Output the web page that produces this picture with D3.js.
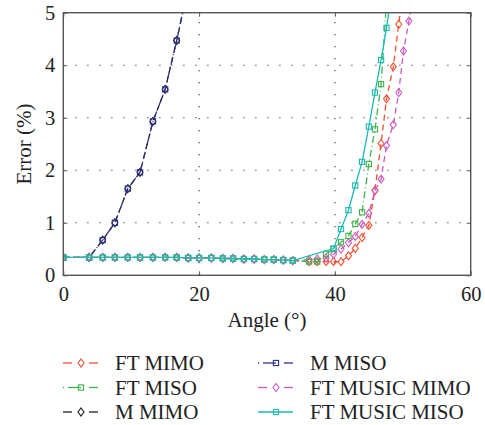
<!DOCTYPE html>
<html>
<head>
<meta charset="utf-8">
<script src="https://cdn.jsdelivr.net/npm/d3@7"></script>
<style>
  html, body { margin: 0; padding: 0; background: #fff; }
  svg text { font-family: "Liberation Serif", "DejaVu Serif", serif; fill: #222; }
</style>
</head>
<body>
<svg id="chart" width="485" height="425"></svg>
<script>
// Angle (°) and error (%) samples for each estimator
const angleM = [0, 3.8, 5.8, 7.6, 9.5, 11.3, 13.2, 15.0, 16.7, 18.4];
const errMMimo = [0.34, 0.34, 0.67, 1.0, 1.65, 1.96, 2.93, 3.54, 4.47, 5.5];
const errMMiso = [0.34, 0.34, 0.67, 1.0, 1.65, 1.96, 2.93, 3.54, 4.47, 5.5];

const angleFtMimo = [0, 3.8, 5.8, 7.6, 9.5, 11.3, 13.2, 15.0, 16.7, 18.4, 20.0, 21.8, 23.5, 25.0, 26.6, 28.1, 29.6, 31.0, 32.4, 33.8, 36.2, 37.4, 38.7, 39.8, 40.9, 42.0, 43.0, 44.0, 45.0, 45.9, 46.8, 47.6, 48.6, 49.4, 50.2];
const errFtMimo = [0.34, 0.34, 0.34, 0.34, 0.34, 0.34, 0.34, 0.34, 0.34, 0.33, 0.33, 0.33, 0.32, 0.32, 0.31, 0.31, 0.30, 0.30, 0.29, 0.28, 0.26, 0.26, 0.26, 0.26, 0.26, 0.37, 0.51, 0.72, 0.95, 1.62, 2.51, 3.36, 3.97, 4.78, 5.6];

const angleFtMusicMimo = [0, 3.8, 5.8, 7.6, 9.5, 11.3, 13.2, 15.0, 16.7, 18.4, 20.0, 21.8, 23.5, 25.0, 26.6, 28.1, 29.6, 31.0, 32.4, 33.8, 36.2, 37.4, 38.7, 39.8, 40.9, 42.0, 43.0, 44.0, 45.0, 45.9, 46.8, 47.6, 48.6, 49.4, 50.1, 50.9, 51.7];
const errFtMusicMimo = [0.34, 0.34, 0.34, 0.34, 0.34, 0.34, 0.34, 0.34, 0.34, 0.33, 0.33, 0.33, 0.32, 0.32, 0.31, 0.31, 0.30, 0.30, 0.29, 0.28, 0.30, 0.31, 0.33, 0.40, 0.50, 0.62, 0.74, 0.97, 1.18, 1.61, 1.83, 2.47, 2.87, 3.48, 4.27, 4.84, 5.5];

const angleFtMiso = [0, 3.8, 5.8, 7.6, 9.5, 11.3, 13.2, 15.0, 16.7, 18.4, 20.0, 21.8, 23.5, 25.0, 26.6, 28.1, 29.6, 31.0, 32.4, 33.8, 36.2, 37.4, 38.7, 39.8, 40.9, 42.0, 43.0, 44.0, 45.0, 45.9, 46.8, 47.7];
const errFtMiso = [0.34, 0.34, 0.34, 0.34, 0.34, 0.34, 0.34, 0.34, 0.34, 0.33, 0.33, 0.33, 0.32, 0.32, 0.31, 0.31, 0.30, 0.30, 0.29, 0.28, 0.26, 0.26, 0.41, 0.50, 0.63, 0.75, 0.98, 1.20, 2.12, 2.78, 3.64, 5.4];

const angleFtMusicMiso = [0, 3.8, 5.8, 7.6, 9.5, 11.3, 13.2, 15.0, 16.7, 18.4, 20.0, 21.8, 23.5, 25.0, 26.6, 28.1, 29.6, 31.0, 32.4, 33.8, 39.8, 40.9, 42.0, 43.0, 44.0, 45.0, 45.9, 46.8, 47.6, 48.5];
const errFtMusicMiso = [0.34, 0.34, 0.34, 0.34, 0.34, 0.34, 0.34, 0.34, 0.34, 0.33, 0.33, 0.33, 0.32, 0.32, 0.31, 0.31, 0.30, 0.30, 0.29, 0.28, 0.51, 0.88, 1.24, 1.71, 2.16, 2.83, 3.48, 4.10, 4.71, 5.5];

const xTicks = [0, 20, 40, 60];
const yTicks = [0, 1, 2, 3, 4, 5];

const seriesNames = ["FT MIMO", "FT MISO", "M MIMO", "M MISO", "FT MUSIC MIMO", "FT MUSIC MISO"];
const seriesColors = ["#f2512e", "#3cb54a", "#1e1e1e", "#2e2f8f", "#cc5bbf", "#1dbab2"];

// Series table (drawing order: lowest first); style: dashed, dashdot or solid
const series = [
  { name: "M MIMO", x: angleM, y: errMMimo, marker: "diamond", style: "dashed" },
  { name: "M MISO", x: angleM, y: errMMiso, marker: "square", style: "dashdot" },
  { name: "FT MIMO", x: angleFtMimo, y: errFtMimo, marker: "diamond", style: "dashed" },
  { name: "FT MUSIC MIMO", x: angleFtMusicMimo, y: errFtMusicMimo, marker: "diamond", style: "dashed" },
  { name: "FT MISO", x: angleFtMiso, y: errFtMiso, marker: "square", style: "dashdot" },
  { name: "FT MUSIC MISO", x: angleFtMusicMiso, y: errFtMusicMiso, marker: "square", style: "solid" }
];
const dashArrays = { dashed: "6,4", dashdot: "7,3,1,3", solid: null };
series.forEach(s => { s.color = seriesColors[seriesNames.indexOf(s.name)]; });

const svg = d3.select("#chart");
const plot = { left: 63.3, right: 470.7, top: 12.7, bottom: 275.3 };
const fontFamily = "'Liberation Serif', 'DejaVu Serif', serif";

const x = d3.scaleLinear().domain([0, 60]).range([plot.left, plot.right]);
const y = d3.scaleLinear().domain([0, 5]).range([plot.bottom, plot.top]);

// Dotted grid at interior ticks
const grid = svg.append("g").attr("stroke", "#333").attr("stroke-width", 1.1)
  .attr("stroke-dasharray", "1.2,10.8");
xTicks.filter(t => t > 0 && t < 60).forEach(t => {
  grid.append("line").attr("x1", x(t)).attr("x2", x(t)).attr("y1", y(0)).attr("y2", y(5));
});
yTicks.filter(t => t > 0 && t < 5).forEach(t => {
  grid.append("line").attr("x1", x(0)).attr("x2", x(60)).attr("y1", y(t)).attr("y2", y(t));
});

// Axes with inward ticks
const xAxis = svg.append("g").attr("transform", `translate(0,${plot.bottom})`)
  .call(d3.axisBottom(x).tickValues(xTicks).tickFormat(d3.format("d"))
    .tickSizeInner(-4).tickSizeOuter(0).tickPadding(11));
const yAxis = svg.append("g").attr("transform", `translate(${plot.left},0)`)
  .call(d3.axisLeft(y).tickValues(yTicks).tickFormat(d3.format("d"))
    .tickSizeInner(-4).tickSizeOuter(0).tickPadding(8));
[xAxis, yAxis].forEach(a => {
  a.attr("font-family", fontFamily).attr("font-size", 20.5);
  a.select(".domain").remove();
  a.selectAll(".tick line").attr("stroke", "#555").attr("stroke-width", 1);
  a.selectAll(".tick text").attr("fill", "#222");
});
svg.append("g").attr("transform", `translate(0,${plot.top})`)
  .call(d3.axisTop(x).tickValues(xTicks).tickSizeInner(-4).tickSizeOuter(0).tickFormat(""))
  .call(g => { g.select(".domain").remove(); g.selectAll(".tick line").attr("stroke", "#555"); });
svg.append("g").attr("transform", `translate(${plot.right},0)`)
  .call(d3.axisRight(y).tickValues(yTicks).tickSizeInner(-4).tickSizeOuter(0).tickFormat(""))
  .call(g => { g.select(".domain").remove(); g.selectAll(".tick line").attr("stroke", "#555"); });

// Clip region for data
svg.append("defs").append("clipPath").attr("id", "plot-clip")
  .append("rect").attr("x", plot.left).attr("y", plot.top)
  .attr("width", plot.right - plot.left).attr("height", plot.bottom - plot.top);

function drawMarker(g, kind, cx, cy, color) {
  if (kind === "square") {
    g.append("rect").attr("x", cx - 2.6).attr("y", cy - 2.6).attr("width", 5.2).attr("height", 5.2)
      .attr("fill", "none").attr("stroke", color).attr("stroke-width", 1.1);
  } else {
    g.append("path").attr("d", `M${cx},${cy - 4}L${cx + 3},${cy}L${cx},${cy + 4}L${cx - 3},${cy}Z`)
      .attr("fill", "none").attr("stroke", color).attr("stroke-width", 1.1);
  }
}

const data = svg.append("g").attr("clip-path", "url(#plot-clip)");
const line = d3.line().x(d => x(d[0])).y(d => y(d[1]));

series.forEach(s => {
  const pts = s.x.map((a, i) => [a, s.y[i]]);
  const g = data.append("g");
  g.append("path").datum(pts).attr("d", line)
    .attr("fill", "none").attr("stroke", s.color).attr("stroke-width", 1.3)
    .attr("stroke-dasharray", dashArrays[s.style]);
  pts.forEach(p => drawMarker(g, s.marker, x(p[0]), y(p[1]), s.color));
});

// Frame
svg.append("rect").attr("x", plot.left).attr("y", plot.top)
  .attr("width", plot.right - plot.left).attr("height", plot.bottom - plot.top)
  .attr("fill", "none").attr("stroke", "#555").attr("stroke-width", 1.4);

// Axis titles
svg.append("text").attr("x", (plot.left + plot.right) / 2).attr("y", 327)
  .attr("text-anchor", "middle").style("font-size", "21px").text("Angle (°)");
svg.append("text").attr("transform", `translate(31,${(plot.top + plot.bottom) / 2}) rotate(-90)`)
  .attr("text-anchor", "middle").style("font-size", "21px").text("Error (%)");

// Legend keys: short line pieces either side of the marker
const legendSegments = {
  dashed: [[0, 9], [26, 35]],
  dashdot: [[0, 1], [5, 18], [26, 35]],
  solid: [[0, 35]]
};
const legendOrder = ["FT MIMO", "FT MISO", "M MIMO", "M MISO", "FT MUSIC MIMO", "FT MUSIC MISO"];
const legend = svg.append("g");
legendOrder.forEach((name, i) => {
  const s = series.find(d => d.name === name);
  const col = Math.floor(i / 3), row = i % 3;
  const x0 = col === 0 ? 63 : 258;
  const cy = 363 + row * 24.5;
  const g = legend.append("g");
  legendSegments[s.style].forEach(([a, b]) => {
    g.append("line").attr("x1", x0 + a).attr("x2", x0 + b).attr("y1", cy).attr("y2", cy)
      .attr("stroke", s.color).attr("stroke-width", 1.3);
  });
  drawMarker(g, s.marker, x0 + 18, cy, s.color);
  g.append("text").attr("x", x0 + 52).attr("y", cy + 7).style("font-size", "21px").text(name);
});
</script>
</body>
</html>
